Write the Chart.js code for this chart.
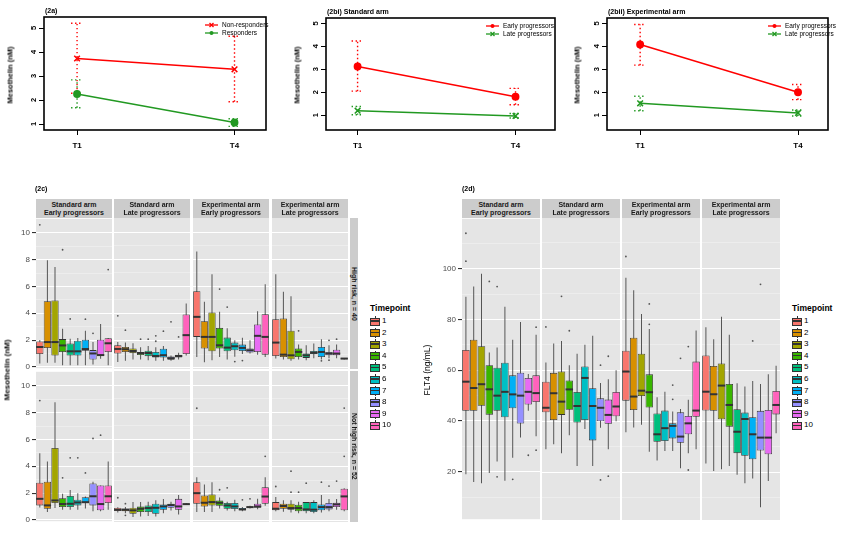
<!DOCTYPE html>
<html lang="en">
<head>
<meta charset="UTF-8" />
<title>Mesothelin and FLT4 by progression group</title>
<style>
  body { margin: 0; background: #fff; }
  #page { position: relative; width: 850px; height: 542px; overflow: hidden; font-family: "Liberation Sans", Arial, sans-serif; }
  #page canvas { position: absolute; }
  .txt { position: absolute; white-space: nowrap; color: #000; }
  .strip { position: absolute; background: #CCCCCC; display: flex; flex-direction: column; justify-content: center; align-items: center; font-size: 7px; font-weight: bold; line-height: 8px; color: #1a1a1a; white-space: nowrap; }
  .vstrip { position: absolute; background: #CCCCCC; display: flex; justify-content: center; align-items: center; writing-mode: vertical-rl; font-size: 7px; font-weight: bold; color: #1a1a1a; white-space: nowrap; }
  .ytitle { position: absolute; white-space: nowrap; transform: translate(-50%, -50%) rotate(-90deg); }
  .key { position: absolute; width: 10px; height: 10px; }
  .key div { position: absolute; }
</style>
</head>
<body>
<div id="page"></div>
<script src="https://cdn.jsdelivr.net/npm/chart.js@4.4.1/dist/chart.umd.min.js"></script>
<script>
  // ---- data: panel (2a), (2b) means with error bars ----
  const visits = ['T1', 'T4'];
  const yTicksTop = [1, 2, 3, 4, 5];

  const nonRespMean = [3.73, 3.28];
  const nonRespLow  = [2.28, 1.93];
  const nonRespHigh = [5.20, 4.66];
  const respMean = [2.25, 1.06];
  const respLow  = [1.68, 0.90];
  const respHigh = [2.84, 1.22];

  const stdEarlyMean = [3.12, 1.81];
  const stdEarlyLow  = [2.05, 1.46];
  const stdEarlyHigh = [4.23, 2.17];
  const stdLateMean = [1.20, 0.97];
  const stdLateLow  = [1.02, 0.88];
  const stdLateHigh = [1.38, 1.08];

  const expEarlyMean = [4.08, 2.00];
  const expEarlyLow  = [3.18, 1.68];
  const expEarlyHigh = [4.95, 2.34];
  const expLateMean = [1.52, 1.10];
  const expLateLow  = [1.20, 0.97];
  const expLateHigh = [1.83, 1.23];

  // ---- data: boxplots, [min, q1, median, q3, max] per timepoint ----
  const timepoints = ['1', '2', '3', '4', '5', '6', '7', '8', '9', '10'];
  const mesoTicks = [0, 1, 2, 3, 4, 5, 6, 7, 8, 9, 10];
  const flt4Ticks = [10, 20, 30, 40, 50, 60, 70, 80, 90, 100, 110];

  const mesoStdEarlyHigh = [[0.25, 0.96, 1.48, 1.9, 2.0], [0.3, 1.4, 1.85, 4.9, 7.95], [0.3, 0.84, 1.85, 4.96, 7.45], [0.12, 1.1, 1.6, 2.07, 2.84], [0.12, 0.84, 1.16, 1.75, 2.1], [0.12, 0.84, 1.16, 1.95, 2.15], [0.12, 1.2, 1.33, 2.02, 2.7], [0.17, 0.55, 1.0, 1.25, 1.85], [0.6, 0.84, 0.88, 2.02, 3.2], [0.12, 1.1, 1.76, 2.13, 2.15]];
  const mesoStdEarlyHighOut = [[1, 10.6], [4, 8.74], [5, 3.58], [7, 3.56], [8, 2.5], [10, 7.26]];
  const mesoStdLateHigh = [[0.42, 1.04, 1.38, 1.65, 1.9], [0.5, 1.16, 1.36, 1.53, 1.85], [0.6, 1.08, 1.23, 1.41, 1.8], [0.6, 0.93, 1.08, 1.16, 1.5], [0.55, 0.85, 1.08, 1.25, 1.6], [0.5, 0.75, 0.86, 1.16, 1.5], [0.5, 0.75, 0.92, 1.4, 1.6], [0.5, 0.58, 0.7, 0.83, 0.9], [0.6, 0.75, 0.86, 0.96, 1.1], [0.9, 1.0, 2.4, 3.93, 4.74]];
  const mesoStdLateHighOut = [[1, 3.83], [2, 2.77], [4, 2.1], [5, 2.1], [6, 2.35], [6, 1.95], [7, 2.69], [8, 3.38], [9, 2.27]];
  const mesoExpEarlyHigh = [[0.79, 2.27, 3.75, 5.65, 8.57], [0.4, 1.41, 2.27, 3.43, 4.86], [0.54, 1.21, 2.27, 4.07, 6.89], [0.79, 1.41, 1.65, 2.94, 4.12], [0.6, 1.21, 1.48, 2.22, 2.9], [0.8, 1.28, 1.58, 1.85, 2.02], [1.0, 1.23, 1.46, 1.7, 2.2], [1.05, 1.11, 1.28, 1.41, 2.02], [0.96, 1.16, 2.35, 3.19, 4.17], [0.79, 0.96, 2.27, 3.95, 6.15]];
  const mesoExpEarlyHighOut = [[4, 5.8], [5, 4.47], [6, 0.45], [7, 0.52]];
  const mesoExpLateHigh = [[0.67, 0.86, 1.85, 3.58, 6.89], [0.6, 0.79, 0.96, 3.63, 5.6], [0.5, 0.62, 0.91, 2.72, 5.28], [0.6, 0.79, 1.16, 1.41, 1.7], [0.55, 0.72, 0.91, 1.04, 1.65], [0.7, 0.99, 1.09, 1.23, 1.78], [0.6, 0.79, 1.16, 1.53, 2.1], [0.7, 0.91, 1.04, 1.16, 1.65], [0.7, 0.91, 1.04, 1.33, 1.7], [0.6, 0.62, 0.67, 0.7, 0.72]];
  const mesoExpLateHighOut = [[4, 2.72], [7, 0.5], [8, 2.02], [8, 0.55], [9, 2.1]];

  const mesoStdEarlyLow = [[0.93, 1.08, 1.57, 2.77, 4.98], [0.59, 0.83, 1.08, 2.84, 4.36], [0.88, 1.25, 1.45, 5.37, 8.77], [0.76, 0.96, 1.18, 1.62, 1.94], [0.76, 0.96, 1.2, 1.79, 2.23], [0.76, 1.08, 1.3, 1.5, 1.99], [0.85, 1.25, 1.32, 1.69, 1.75], [0.65, 1.08, 1.76, 2.72, 2.84], [0.65, 0.71, 1.18, 2.57, 2.57], [0.76, 1.25, 1.76, 2.57, 4.36]];
  const mesoStdEarlyLowOut = [[1, 8.9], [4, 3.14], [5, 4.63], [6, 4.63], [7, 3.5], [8, 6.08], [9, 6.32]];
  const mesoStdLateLow = [[0.6, 0.71, 0.8, 0.95, 0.98], [0.55, 0.69, 0.8, 0.9, 1.0], [0.27, 0.51, 0.76, 0.95, 1.37], [0.3, 0.63, 0.88, 1.05, 1.37], [0.35, 0.63, 0.93, 1.12, 1.4], [0.3, 0.51, 0.95, 1.25, 1.5], [0.55, 0.8, 1.05, 1.2, 1.6], [0.75, 0.95, 1.15, 1.25, 1.4], [0.45, 0.8, 1.05, 1.61, 1.9], [1.15, 1.18, 1.22, 1.26, 1.3]];
  const mesoStdLateLowOut = [[1, 1.69], [2, 1.25], [2, 0.39]];
  const mesoExpEarlyLow = [[0.63, 1.25, 2.03, 2.84, 3.2], [0.63, 1.05, 1.32, 1.86, 2.67], [0.63, 1.12, 1.37, 1.93, 2.84], [0.9, 1.1, 1.32, 1.49, 1.7], [0.75, 0.88, 1.12, 1.3, 1.4], [0.7, 0.86, 1.05, 1.3, 1.55], [0.7, 0.76, 0.83, 0.93, 1.0], [0.9, 0.95, 1.0, 1.05, 1.1], [0.85, 0.95, 1.05, 1.25, 1.61], [1.1, 1.25, 1.78, 2.47, 3.2]];
  const mesoExpEarlyLowOut = [[1, 8.3], [4, 2.28], [5, 2.42], [7, 1.54], [8, 1.61], [10, 4.75]];
  const mesoExpLateLow = [[0.7, 0.76, 0.88, 1.37, 1.74], [0.65, 0.88, 1.08, 1.25, 1.5], [0.6, 0.81, 0.93, 1.25, 1.5], [0.55, 0.69, 0.93, 1.18, 1.4], [0.55, 0.69, 0.83, 1.37, 1.37], [0.55, 0.64, 0.81, 1.37, 1.5], [0.6, 0.76, 1.0, 1.2, 1.9], [0.7, 0.83, 1.0, 1.3, 1.6], [0.8, 1.0, 1.2, 1.32, 1.6], [0.7, 0.76, 1.79, 2.35, 2.4]];
  const mesoExpLateLowOut = [[1, 2.52], [3, 3.65], [3, 2.1], [4, 2.1], [5, 2.77], [7, 2.84], [8, 2.55], [9, 2.92], [10, 4.75], [10, 8.31]];

  const flt4StdEarly = [[19, 44, 55.5, 68, 89], [16, 44, 53, 72, 93], [15.5, 46, 54.5, 69.5, 98], [19.5, 42.5, 52.5, 62, 67], [24, 44, 50, 61, 69], [16.5, 41.5, 51.5, 63, 85], [25.5, 45, 50.5, 58, 72], [33.5, 39, 50, 59, 79], [44, 46.5, 51.5, 57, 58.5], [34, 47.5, 51, 58, 74]];
  const flt4StdEarlyOut = [[1, 114], [1, 103], [4, 95], [5, 93], [5, 18], [7, 17], [9, 26.5], [10, 77], [10, 28.5]];
  const flt4StdLate = [[29, 43.5, 45.3, 55.5, 63], [31, 40.5, 51, 59, 70.5], [27.5, 42.5, 47.7, 59.5, 71.5], [34.5, 44.5, 52.5, 56, 62], [22.5, 39.5, 46, 51.5, 66.5], [37, 40.5, 57, 61.5, 70], [22.5, 32.5, 46, 53, 73.5], [37.5, 40, 45.3, 49, 55], [29, 39, 42.5, 48.5, 56.5], [40, 42, 45.8, 51.5, 60]];
  const flt4StdLateOut = [[1, 77], [3, 89], [4, 75.5], [8, 62], [8, 17], [9, 65.5], [9, 18.5]];
  const flt4ExpEarly = [[35.7, 48.1, 59.5, 67.7, 96.3], [37.6, 44.4, 49.7, 72.8, 91.4], [38.6, 49.9, 52, 66.5, 82.1], [28.1, 45.4, 51.4, 58.4, 76.2], [24.6, 32, 34.9, 43.1, 49.4], [28.4, 32.3, 37.3, 44.2, 51.6], [28.4, 33.3, 38.2, 39.2, 43.8], [21.6, 31.6, 34, 43.5, 44.8], [27.5, 34.9, 39.2, 42.1, 48.4], [29, 41.8, 44.2, 63.4, 75.6]];
  const flt4ExpEarlyOut = [[1, 104.6], [4, 86], [4, 78], [7, 54.2], [7, 48.6], [8, 64.7], [9, 69.3], [9, 20.9]];
  const flt4ExpLate = [[23.5, 44.2, 51.6, 65.8, 76.9], [20.5, 44.1, 50.6, 61.7, 72.2], [21.2, 40.8, 54, 62.7, 81], [22.5, 37.9, 46.4, 54.6, 73.9], [19, 27.5, 35.9, 44.7, 54.9], [15.7, 26.5, 40.9, 43.4, 53.6], [17.6, 25.1, 34.9, 41.6, 55.8], [6.3, 28.5, 33.6, 44.1, 54.6], [16.6, 27.1, 33.6, 44.4, 58.4], [35.3, 42.7, 46.4, 51.9, 61.8]];
  const flt4ExpLateOut = [[7, 71.5], [8, 93.7]];

  const tpColors = ['#F8766D', '#D89000', '#A3A500', '#39B600', '#00BF7D', '#00BFC4', '#00B0F6', '#9590FF', '#E76BF3', '#FF62BC'];
  const RED = '#FF0000', GREEN = '#229922';

  Chart.defaults.font.family = '"Liberation Sans", Arial, sans-serif';
  Chart.defaults.animation = false;

  const page = document.getElementById('page');

  function addCanvas(left, top, w, h) {
    const c = document.createElement('canvas');
    c.width = w; c.height = h;
    c.style.left = left + 'px'; c.style.top = top + 'px';
    c.style.width = w + 'px'; c.style.height = h + 'px';
    page.appendChild(c);
    return c;
  }
  function addText(text, left, top, css) {
    const d = document.createElement('div');
    d.className = 'txt';
    d.textContent = text;
    d.style.cssText += `left:${left}px;top:${top}px;` + (css || '');
    page.appendChild(d);
    return d;
  }
  function addYTitle(text, cx, cy, css) {
    const d = document.createElement('div');
    d.className = 'ytitle';
    d.textContent = text;
    d.style.cssText += `left:${cx}px;top:${cy}px;` + (css || '');
    page.appendChild(d);
  }
  function addStrip(lines, left, top, w, h) {
    const d = document.createElement('div');
    d.className = 'strip';
    d.style.cssText += `left:${left}px;top:${top}px;width:${w}px;height:${h}px;`;
    lines.forEach(l => { const s = document.createElement('div'); s.textContent = l; d.appendChild(s); });
    page.appendChild(d);
  }
  function addVStrip(text, left, top, w, h) {
    const d = document.createElement('div');
    d.className = 'vstrip';
    d.textContent = text;
    d.style.cssText += `left:${left}px;top:${top}px;width:${w}px;height:${h}px;`;
    page.appendChild(d);
  }

  // ---- top row: means with dotted error bars ----
  const errorBars = {
    id: 'errorBars',
    beforeDatasetsDraw(chart) {
      const { ctx, scales: { x, y } } = chart;
      chart.data.datasets.forEach(ds => {
        ctx.save();
        ctx.strokeStyle = ds.borderColor;
        ctx.lineWidth = 1.4;
        ctx.setLineDash([1.4, 2.6]);
        ds.lo.forEach((lo, i) => {
          const px = x.getPixelForValue(i + 1);
          const y1 = y.getPixelForValue(lo), y2 = y.getPixelForValue(ds.hi[i]);
          ctx.beginPath();
          ctx.moveTo(px, y1); ctx.lineTo(px, y2);
          ctx.moveTo(px - 6, y1); ctx.lineTo(px + 6, y1);
          ctx.moveTo(px - 6, y2); ctx.lineTo(px + 6, y2);
          ctx.stroke();
        });
        ctx.restore();
      });
    }
  };

  function drawMarker(ctx, style, x, y, r, color) {
    ctx.save();
    ctx.strokeStyle = color; ctx.fillStyle = color; ctx.lineWidth = 1.3;
    ctx.beginPath();
    if (style === 'circle') {
      ctx.arc(x, y, r, 0, Math.PI * 2); ctx.fill();
    } else {
      ctx.moveTo(x - r, y - r); ctx.lineTo(x + r, y + r);
      ctx.moveTo(x - r, y + r); ctx.lineTo(x + r, y - r); ctx.stroke();
    }
    ctx.restore();
  }

  const baseFrame = {
    id: 'baseFrame',
    afterDraw(chart, args, opts) {
      const { ctx, chartArea: a, scales: { y } } = chart;
      ctx.save();
      ctx.strokeStyle = '#000'; ctx.lineWidth = 1.6;
      ctx.strokeRect(a.left, a.top, a.width, a.height);
      // rotated y tick labels, as base graphics draws them
      ctx.fillStyle = '#000';
      ctx.font = 'bold 7.5px "Liberation Sans", Arial';
      ctx.textAlign = 'center'; ctx.textBaseline = 'middle';
      yTicksTop.forEach(v => {
        ctx.save();
        ctx.translate(a.left - 10.5, y.getPixelForValue(v));
        ctx.rotate(-Math.PI / 2);
        ctx.fillText(String(v), 0, 0);
        ctx.restore();
      });
      // legend in the top right corner
      ctx.font = '6.5px "Liberation Sans", Arial';
      ctx.textAlign = 'left';
      chart.data.datasets.forEach((ds, i) => {
        const ly = a.top + 8 + i * 8;
        const lx = a.right - opts.right;
        ctx.strokeStyle = ds.borderColor; ctx.lineWidth = 1.3;
        ctx.beginPath(); ctx.moveTo(lx, ly); ctx.lineTo(lx + 13, ly); ctx.stroke();
        drawMarker(ctx, ds.pointStyle, lx + 6.5, ly, 2, ds.borderColor);
        ctx.fillStyle = '#000';
        ctx.fillText(ds.label, lx + 17, ly + 0.5);
      });
      ctx.restore();
    }
  };

  function meanChart(o) {
    const h = 160;
    const c = addCanvas(o.left, 0, o.width, h);
    new Chart(c, {
      type: 'line',
      data: {
        datasets: o.series.map(s => ({
          label: s.label,
          data: s.mean.map((m, i) => ({ x: i + 1, y: m })),
          lo: s.lo, hi: s.hi,
          borderColor: s.color, backgroundColor: s.color,
          borderWidth: 1.5,
          pointStyle: s.marker === 'circle' ? 'circle' : 'crossRot',
          pointRadius: s.marker === 'circle' ? 3.2 : 4,
          pointBorderWidth: 1.5,
          pointBackgroundColor: s.color
        }))
      },
      options: {
        responsive: false,
        layout: { autoPadding: false, padding: { top: o.areaTop, right: o.padRight, left: 0, bottom: 0 } },
        plugins: { legend: { display: false }, tooltip: { enabled: false }, baseFrame: { right: o.legendRight } },
        scales: {
          x: {
            type: 'linear', min: o.xMin, max: o.xMax,
            afterBuildTicks: s => { s.ticks = [{ value: 1 }, { value: 2 }]; },
            afterFit: s => { s.height = h - 130; },
            border: { display: false },
            grid: { drawOnChartArea: false, tickLength: 5, tickColor: '#000' },
            ticks: { callback: v => visits[v - 1], color: '#000', font: { size: 8, weight: 'bold' }, padding: 6, maxRotation: 0 }
          },
          y: {
            min: o.yMin, max: o.yMax,
            afterBuildTicks: s => { s.ticks = yTicksTop.map(v => ({ value: v })); },
            afterFit: s => { s.width = o.axisW; },
            border: { display: false },
            grid: { drawOnChartArea: false, tickLength: 5, tickColor: '#000' },
            ticks: { display: false }
          }
        }
      },
      plugins: [errorBars, baseFrame]
    });
  }

  meanChart({
    left: 0, width: 290, axisW: 44, padRight: 24, areaTop: 17,
    yMin: 0.75, yMax: 5.46, xMin: 0.79, xMax: 2.2, legendRight: 61,
    series: [
      { label: 'Non-responders', mean: nonRespMean, lo: nonRespLow, hi: nonRespHigh, color: RED, marker: 'cross' },
      { label: 'Responders', mean: respMean, lo: respLow, hi: respHigh, color: GREEN, marker: 'circle' }
    ]
  });
  meanChart({
    left: 290, width: 280, axisW: 36, padRight: 15, areaTop: 18,
    yMin: 0.36, yMax: 5.23, xMin: 0.8, xMax: 2.25, legendRight: 69,
    series: [
      { label: 'Early progressors', mean: stdEarlyMean, lo: stdEarlyLow, hi: stdEarlyHigh, color: RED, marker: 'circle' },
      { label: 'Late progressors', mean: stdLateMean, lo: stdLateLow, hi: stdLateHigh, color: GREEN, marker: 'cross' }
    ]
  });
  meanChart({
    left: 570, width: 280, axisW: 37, padRight: 22, areaTop: 18,
    yMin: 0.36, yMax: 5.23, xMin: 0.79, xMax: 2.19, legendRight: 60,
    series: [
      { label: 'Early progressors', mean: expEarlyMean, lo: expEarlyLow, hi: expEarlyHigh, color: RED, marker: 'circle' },
      { label: 'Late progressors', mean: expLateMean, lo: expLateLow, hi: expLateHigh, color: GREEN, marker: 'cross' }
    ]
  });

  addText('(2a)', 45, 7, 'font-size:7px;font-weight:bold');
  addText('(2bi) Standard arm', 327, 8, 'font-size:7px;font-weight:bold');
  addText('(2bii) Experimental arm', 608, 8, 'font-size:7px;font-weight:bold');
  addYTitle('Mesothelin (nM)', 10, 75, 'font-size:7.5px;font-weight:bold');
  addYTitle('Mesothelin (nM)', 297, 75, 'font-size:7.5px;font-weight:bold');
  addYTitle('Mesothelin (nM)', 577, 75, 'font-size:7.5px;font-weight:bold');

  // ---- bottom: faceted boxplots ----
  const panelBg = {
    id: 'panelBg',
    beforeDraw(chart) {
      const { ctx, chartArea: a } = chart;
      ctx.save();
      ctx.fillStyle = '#E5E5E5';
      ctx.fillRect(a.left, a.top, a.width, a.height);
      ctx.restore();
    }
  };
  const medians = {
    id: 'medians',
    afterDatasetsDraw(chart) {
      const { ctx, scales: { y } } = chart;
      chart.data.datasets.forEach((ds, i) => {
        if (!ds.medians) return;
        ctx.save();
        ctx.strokeStyle = '#333'; ctx.lineWidth = 2;
        chart.getDatasetMeta(i).data.forEach((bar, j) => {
          const py = y.getPixelForValue(ds.medians[j]);
          ctx.beginPath();
          ctx.moveTo(bar.x - bar.width / 2, py);
          ctx.lineTo(bar.x + bar.width / 2, py);
          ctx.stroke();
        });
        ctx.restore();
      });
    }
  };

  const PAD = 6;
  function boxPanel(p) {
    const axisW = p.axisW || 0;
    const c = addCanvas(p.left - axisW, p.top - PAD, p.width + axisW, p.height + 2 * PAD);
    const major = v => v % p.majorStep === 0;
    new Chart(c, {
      type: 'bar',
      data: {
        labels: timepoints,
        datasets: [
          {
            data: p.stats.map(s => [s[0], s[4]]), backgroundColor: '#555', borderWidth: 0,
            barThickness: 1, grouped: false, inflateAmount: 0, order: 3
          },
          {
            data: p.stats.map(s => [s[1], s[3]]), medians: p.stats.map(s => s[2]),
            backgroundColor: tpColors, borderColor: '#333', borderWidth: 0.8, borderSkipped: false,
            barPercentage: 0.96, categoryPercentage: 1, grouped: false, inflateAmount: 0, order: 2
          },
          {
            type: 'line', showLine: false, order: 1,
            data: p.outliers.map(o => ({ x: timepoints[o[0] - 1], y: o[1] })),
            pointRadius: 0.9, pointHoverRadius: 0.9, pointBorderWidth: 0, pointBackgroundColor: '#555'
          }
        ]
      },
      options: {
        responsive: false,
        layout: { autoPadding: false, padding: { top: PAD, bottom: PAD, left: 0, right: 0 } },
        plugins: { legend: { display: false }, tooltip: { enabled: false } },
        scales: {
          x: { display: false, offset: true, grid: { display: false } },
          y: {
            min: p.yMin, max: p.yMax,
            afterBuildTicks: s => { s.ticks = p.ticks.map(v => ({ value: v })); },
            afterFit: s => { s.width = axisW; },
            border: { display: false },
            grid: {
              color: ctx => major(ctx.tick.value) ? '#FFFFFF' : '#F2F2F2',
              lineWidth: ctx => major(ctx.tick.value) ? 1.1 : 0.6,
              drawTicks: !!axisW, tickLength: 4,
              tickColor: ctx => major(ctx.tick.value) ? '#333' : 'rgba(0,0,0,0)'
            },
            ticks: {
              display: !!axisW, padding: 2, color: '#4D4D4D', font: { size: 8 },
              callback: v => major(v) ? v : ''
            }
          }
        }
      },
      plugins: [panelBg, medians]
    });
  }

  function addTimepointLegend(left, top) {
    addText('Timepoint', left, top - 6, 'font-size:8.5px;font-weight:bold');
    timepoints.forEach((t, i) => {
      const cy = top + 12 + i * 11.6;
      const k = document.createElement('div');
      k.className = 'key';
      k.style.left = left + 'px'; k.style.top = (cy - 5) + 'px';
      k.innerHTML = `<div style="left:4.5px;top:0;width:1px;height:10px;background:#333"></div>` +
        `<div style="left:0;top:1.5px;width:8.4px;height:6.2px;background:${tpColors[i]};border:0.8px solid #333"></div>` +
        `<div style="left:0.5px;top:4.3px;width:9px;height:1.4px;background:#333"></div>`;
      page.appendChild(k);
      addText(t, left + 12, cy - 5, 'font-size:8px;line-height:10px');
    });
  }

  const armLabels = [['Standard arm', 'Early progressors'], ['Standard arm', 'Late progressors'],
                     ['Experimental arm', 'Early progressors'], ['Experimental arm', 'Late progressors']];

  // (2c) mesothelin
  const cLefts = [36, 114, 193, 272], cWidth = 76;
  const cRows = [[218, 151], [371, 151]];
  const mesoGrid = [
    [[mesoStdEarlyHigh, mesoStdEarlyHighOut], [mesoStdLateHigh, mesoStdLateHighOut], [mesoExpEarlyHigh, mesoExpEarlyHighOut], [mesoExpLateHigh, mesoExpLateHighOut]],
    [[mesoStdEarlyLow, mesoStdEarlyLowOut], [mesoStdLateLow, mesoStdLateLowOut], [mesoExpEarlyLow, mesoExpEarlyLowOut], [mesoExpLateLow, mesoExpLateLowOut]]
  ];
  mesoGrid.forEach((row, r) => row.forEach((cell, col) => {
    boxPanel({
      left: cLefts[col], top: cRows[r][0], width: cWidth, height: cRows[r][1],
      axisW: col === 0 ? 36 : 0, stats: cell[0], outliers: cell[1],
      yMin: -0.1, yMax: 11.05, ticks: mesoTicks, majorStep: 2
    });
  }));
  cLefts.forEach((l, i) => addStrip(armLabels[i], l, 199, cWidth, 19));
  addVStrip('High risk, n = 40', 350, cRows[0][0], 8, cRows[0][1]);
  addVStrip('Not high risk, n = 52', 350, cRows[1][0], 8, cRows[1][1]);
  addText('(2c)', 35, 185, 'font-size:7px;font-weight:bold');
  addYTitle('Mesothelin (nM)', 7, 370, 'font-size:8px;font-weight:bold');
  addTimepointLegend(370, 309);

  // (2d) FLT4
  const dLefts = [462, 542, 622, 702], dWidth = 78;
  const flt4Grid = [[flt4StdEarly, flt4StdEarlyOut], [flt4StdLate, flt4StdLateOut], [flt4ExpEarly, flt4ExpEarlyOut], [flt4ExpLate, flt4ExpLateOut]];
  flt4Grid.forEach((cell, col) => {
    boxPanel({
      left: dLefts[col], top: 218, width: dWidth, height: 302,
      axisW: col === 0 ? 30 : 0, stats: cell[0], outliers: cell[1],
      yMin: 1.3, yMax: 119.7, ticks: flt4Ticks, majorStep: 20
    });
  });
  dLefts.forEach((l, i) => addStrip(armLabels[i], l, 199, dWidth, 19));
  addText('(2d)', 462, 185, 'font-size:7px;font-weight:bold');
  addYTitle('FLT4 (ng/mL)', 427, 370, 'font-size:8.5px');
  addTimepointLegend(792, 309);
</script>
</body>
</html>
